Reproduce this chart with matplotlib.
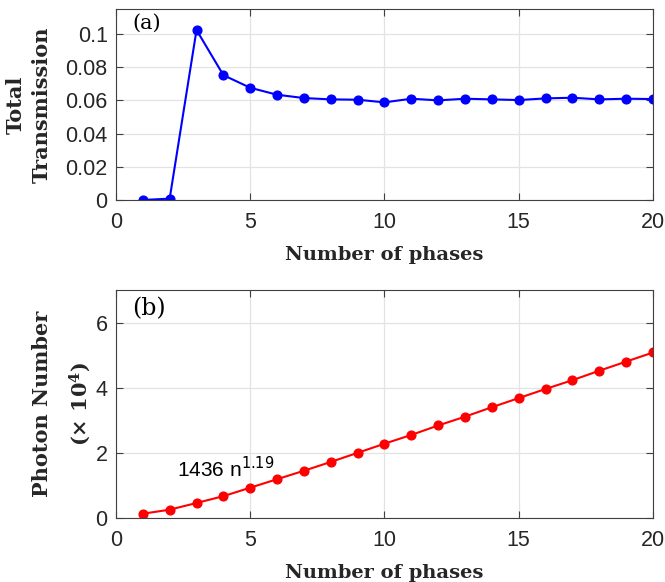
import matplotlib
matplotlib.use("Agg")
import matplotlib.pyplot as plt

phases = list(range(1, 21))
transmission = [0.0, 0.0008, 0.1024, 0.0752, 0.0676, 0.0634, 0.0614, 0.0606, 0.0604, 0.0588,
                0.0610, 0.0600, 0.0610, 0.0606, 0.0602, 0.0612, 0.0616, 0.0606, 0.0610, 0.0608]
photons = [0.13, 0.255, 0.46, 0.67, 0.93, 1.19, 1.45, 1.72, 2.00, 2.28,
           2.55, 2.84, 3.11, 3.40, 3.68, 3.96, 4.23, 4.52, 4.80, 5.08]
x_ticks = [0, 5, 10, 15, 20]
top_yticks = [0, 0.02, 0.04, 0.06, 0.08, 0.1]
top_yticklabels = ["0", "0.02", "0.04", "0.06", "0.08", "0.1"]
bot_yticks = [0, 2, 4, 6]

plt.rcParams['font.family'] = ['Liberation Sans', 'DejaVu Sans']
plt.rcParams['mathtext.fontset'] = 'dejavuserif'
fig = plt.figure(figsize=(6.65, 5.82), dpi=100)
ax1 = fig.add_axes([0.1744, 0.6564, 0.8075, 0.328])
ax2 = fig.add_axes([0.1744, 0.110, 0.8075, 0.3918])

axc = '#404040'
xlabel_font = dict(family='DejaVu Serif', weight='bold', size=14)
ylabel_font = dict(family='DejaVu Serif', weight='bold', size=15)

def style(ax):
    ax.set_xlim(0, 20)
    ax.set_xticks(x_ticks)
    ax.grid(True, color='#e3e3e3', linewidth=0.9)
    ax.set_axisbelow(True)
    ax.tick_params(direction='in', top=True, right=True, labelsize=15.5, labelcolor='#262626',
                   color=axc, length=5, width=0.8)
    ax.tick_params(axis='x', pad=9)
    ax.tick_params(axis='y', pad=6)
    for s in ax.spines.values():
        s.set_color(axc)
        s.set_linewidth(0.8)
    ax.set_xlabel('Number of phases', fontdict=xlabel_font, color='#262626', labelpad=9)

ax1.plot(phases, transmission, '-o', color='#0000ff', linewidth=1.5, markersize=6.3)
ax1.set_ylim(0, 0.115)
ax1.set_yticks(top_yticks)
ax1.set_yticklabels(top_yticklabels)
style(ax1)
ax1.set_ylabel('Total\nTransmission', fontdict=ylabel_font, color='#262626', labelpad=10,
               linespacing=1.35)
ax1.text(0.03, 0.975, '(a)', transform=ax1.transAxes, family='DejaVu Serif',
         fontsize=15, va='top', ha='left')

ax2.plot(phases, photons, '-o', color='#ff0000', linewidth=1.5, markersize=6.3)
ax2.set_ylim(0, 7)
ax2.set_yticks(bot_yticks)
style(ax2)
ax2.set_ylabel('Photon Number\n(× 10' + r'$^{\mathbf{4}}$' + ')', fontdict=ylabel_font,
               color='#262626', labelpad=2, linespacing=1.75)
ax2.text(0.03, 0.97, '(b)', transform=ax2.transAxes, family='DejaVu Serif',
         fontsize=17, va='top', ha='left')
ax2.text(2.27, 1.26, r'1436 n$^{1.19}$', fontsize=15, ha='left', va='baseline',
         color='#000000', math_fontfamily='dejavusans')

fig.savefig('out.png', dpi=100)
